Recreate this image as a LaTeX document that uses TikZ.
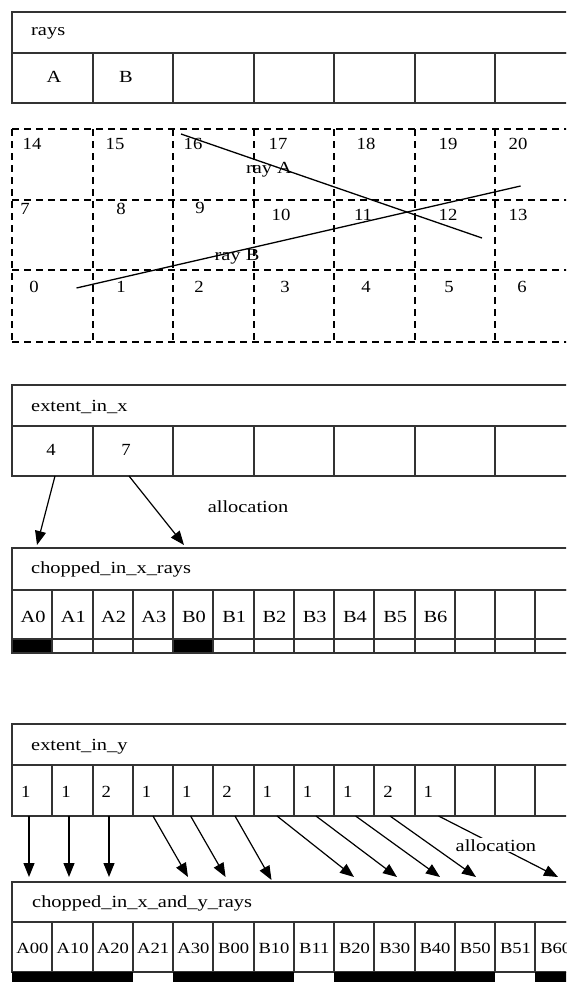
\documentclass[tikz,border=0pt]{standalone}
\usepackage{fontspec}
\newfontfamily\tms{Liberation Serif}
\usetikzlibrary{arrows.meta}
\newcommand{\stxt}[1]{\scalebox{1.2}[1]{\tms #1}}
\newcommand{\ntxt}[1]{\scalebox{1.1}[1]{\tms #1}}
\tikzset{
  box/.style={draw=black!80, line width=1.2pt},
  gridline/.style={draw=black, line width=1.8pt, dash pattern=on 7pt off 5pt},
  lbl/.style={inner sep=0pt, font=\fontsize{17}{17}\selectfont},
  small/.style={inner sep=0pt, font=\fontsize{15.5}{15.5}\selectfont},
  num/.style={inner sep=0pt, font=\fontsize{17}{17}\selectfont},
  arr/.style={draw=black, line width=1.2pt, -{Triangle[length=14pt,width=11pt]}},
  blk/.style={fill=black},
}
\begin{document}
\begin{tikzpicture}[x=1pt,y=-1pt]
\useasboundingbox (0,0) rectangle (566,982);
\clip (0,0) rectangle (566,982);
\fill[white] (0,0) rectangle (566,982);

% ---------- rays ----------
\draw[box] (12,12) rectangle (600,53);
\draw[box] (12,53) rectangle (600,103);
\foreach \i in {1,...,7} \draw[box] ({round(12+80.5*\i)},53) -- ({round(12+80.5*\i)},103);
\node[lbl, anchor=west] (rays) at (31,33) {\stxt{rays}};
\node[lbl] (raysA) at (54,77) {\stxt{A}};
\node[lbl] (raysB) at (126,77) {\stxt{B}};

% ---------- grid ----------
\foreach \yy in {129,200,270,342} \draw[gridline] (12,\yy) -- (600,\yy);
\foreach \i in {0,...,7} \draw[gridline] ({round(12+80.5*\i)},129) -- ({round(12+80.5*\i)},342);
\foreach \t/\xx/\yy in {14/32/144,15/115/144,16/193/144,17/278/144,18/366/144,19/448/144,20/518/144,
  7/25/209,8/121/209,9/200/208,10/281/215,11/363/215,12/448/215,13/518/215,
  0/34/287,1/121/287,2/199/287,3/285/287,4/366/287,5/449/287,6/522/287}
  \node[num] (g\t) at (\xx,\yy) {\ntxt{\t}};
\coordinate (rayAs) at (181,134);
\coordinate (rayAe) at (482,238);
\coordinate (rayBs) at (76.5,288);
\coordinate (rayBe) at (520.6,186);
\draw[line width=1.3pt] (rayAs) -- (rayAe);
\draw[line width=1.3pt] (rayBs) -- (rayBe);
\node[lbl] (rayAlbl) at (269,170) {\stxt{ray A}};
\node[lbl] (rayBlbl) at (237,257) {\stxt{ray B}};

% ---------- extent_in_x ----------
\draw[box] (12,385) rectangle (600,426);
\draw[box] (12,426) rectangle (600,476);
\foreach \i in {1,...,7} \draw[box] ({round(12+80.5*\i)},426) -- ({round(12+80.5*\i)},476);
\node[lbl, anchor=west] (exx) at (31,407) {\stxt{extent\_in\_x}};
\node[num] (ex4) at (51,450) {\ntxt{4}};
\node[num] (ex7) at (126,450) {\ntxt{7}};

\coordinate (xa1s) at (55,476);  \coordinate (xa1e) at (37,545);
\coordinate (xa2s) at (129,476); \coordinate (xa2e) at (184,545);
\draw[arr] (xa1s) -- (xa1e);
\draw[arr] (xa2s) -- (xa2e);
\node[lbl] (allocx) at (248,507) {\stxt{allocation}};

% ---------- chopped_in_x_rays ----------
\draw[box] (12,548) rectangle (600,590);
\draw[box] (12,590) rectangle (600,639);
\fill[blk] (12,639) rectangle (52,653);
\fill[blk] (173,639) rectangle (213,653);
\draw[box] (12,639) rectangle (600,653);
\foreach \i in {1,...,14} \draw[box] ({round(12+40.25*\i)},590) -- ({round(12+40.25*\i)},653);
\node[lbl, anchor=west] (chx) at (31,569) {\stxt{chopped\_in\_x\_rays}};
\foreach \t [count=\i from 0] in {A0,A1,A2,A3,B0,B1,B2,B3,B4,B5,B6}
  \node[lbl] (cx\t) at ({33+40.25*\i},617) {\stxt{\t}};

% ---------- extent_in_y ----------
\draw[box] (12,724) rectangle (600,765);
\draw[box] (12,765) rectangle (600,816);
\foreach \i in {1,...,14} \draw[box] ({round(12+40.25*\i)},765) -- ({round(12+40.25*\i)},816);
\node[lbl, anchor=west] (exy) at (31,747) {\stxt{extent\_in\_y}};
\foreach \t [count=\i from 0] in {1,1,2,1,1,2,1,1,1,2,1}
  \node[num, anchor=west] (ey\i) at ({21+40.25*\i},792) {\ntxt{\t}};

\foreach \k/\sx/\ex/\ey in {1/29/29/877,2/69/69/877,3/109/109/877,4/153/188/877,5/190.6/225.6/877,
   6/235/271.5/880,7/277/354/877,8/316/397/877,9/355.6/440/877,10/390/476/877}{
  \coordinate (ya\k s) at (\sx,816);
  \coordinate (ya\k e) at (\ex,\ey);
  \draw[arr] (ya\k s) -- (ya\k e);
}
\coordinate (ya11s) at (438.6,816);
\coordinate (ya11e) at (558,877);
\draw[arr] (ya11s) -- node[lbl, pos=0.48, fill=white, inner sep=1pt] (allocy) {\stxt{allocation}} (ya11e);

% ---------- chopped_in_x_and_y_rays ----------
\draw[box] (12,882) rectangle (600,922);
\draw[box] (12,922) rectangle (600,972);
\foreach \i in {0,1,2,4,5,6,8,9,10,11,13}
  \fill[blk] ({round(12+40.25*\i)},972) rectangle ({round(12+40.25*(\i+1))},990);
\foreach \i in {1,...,14} \draw[box] ({round(12+40.25*\i)},922) -- ({round(12+40.25*\i)},972);
\node[lbl, anchor=west] (chxy) at (32,903) {\stxt{chopped\_in\_x\_and\_y\_rays}};
\foreach \t [count=\i from 0] in {A00,A10,A20,A21,A30,B00,B10,B11,B20,B30,B40,B50,B51,B60}
  \node[small] (cxy\t) at ({32.5+40.25*\i},948) {\stxt{\t}};
\end{tikzpicture}
\end{document}
